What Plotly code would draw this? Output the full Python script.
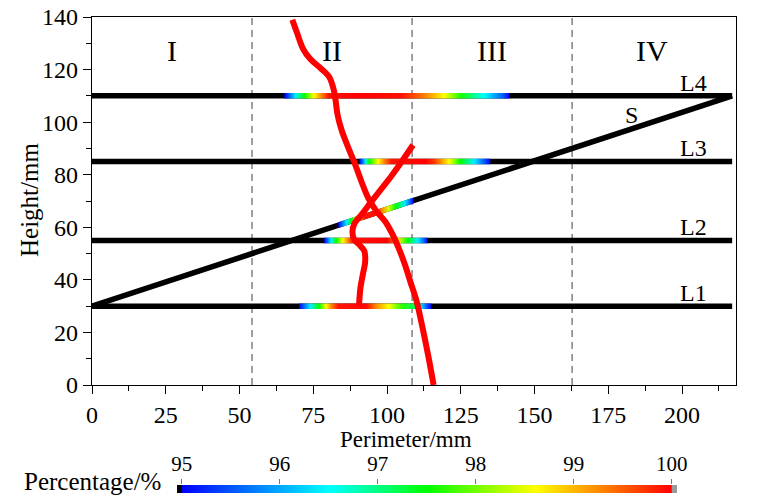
import plotly.graph_objects as go
from plotly.colors import sample_colorscale

# ---------------- data ----------------
perimeter = 217.0
region_labels = ["I", "II", "III", "IV"]
line_names = ["L1", "L2", "L3", "L4"]
line_heights = [30, 55, 85, 110]
s_name = "S"
s_y = [30, 110]          # S runs from L1 (at x=0) to L4 (at x=perimeter)

# percentage profiles along each line: position (mm) and percentage (%)
L1_x = [70.2, 71.3, 74.0, 77.0, 79.3, 81.2, 83.5, 93.0, 96.0, 100.5, 105.0, 109.0, 111.6, 113.5, 115.0]
L1_p = [95.0, 95.4, 96.4, 97.5, 98.6, 99.3, 99.9, 99.95, 99.3, 98.6, 97.7, 97.2, 96.3, 95.5, 95.0]
L2_x = [78.7, 79.5, 81.0, 82.8, 85.0, 86.8, 88.5, 100.0, 102.0, 103.8, 107.0, 110.4, 112.7, 113.8]
L2_p = [95.0, 95.4, 96.4, 97.5, 98.6, 99.3, 99.9, 100.0, 99.5, 98.7, 97.5, 96.4, 95.5, 95.0]
L3_x = [90.6, 91.5, 92.7, 94.0, 97.0, 99.5, 101.5, 113.0, 116.0, 118.4, 121.0, 125.0, 129.6, 133.0, 135.0]
L3_p = [95.0, 95.5, 96.4, 97.5, 98.6, 99.4, 99.9, 100.0, 99.7, 99.2, 98.6, 97.5, 96.4, 95.5, 95.0]
L4_x = [65.2, 66.0, 69.0, 72.0, 75.2, 77.5, 80.3, 90.0, 100.0, 105.0, 109.0, 114.0, 119.4, 125.0, 133.0, 139.0, 141.5]
L4_p = [95.0, 95.2, 96.4, 97.5, 98.6, 99.2, 99.9, 100.0, 99.95, 99.9, 99.6, 99.2, 98.6, 97.6, 96.5, 95.6, 95.0]
S_x = [83.5, 84.5, 86.3, 88.0, 89.5, 91.0, 92.5, 96.0, 98.5, 100.5, 103.0, 106.0, 108.0, 109.0]
S_p = [95.0, 95.5, 96.4, 97.5, 98.6, 99.3, 99.9, 99.9, 99.2, 98.4, 97.5, 96.4, 95.5, 95.0]

# red curves (perimeter mm, height mm)
curveA_x = [67.9, 69.5, 71.5, 74.0, 77.5, 80.5, 82.0, 82.6, 83.2, 84.6, 86.8, 89.0, 91.3, 93.7,
            96.5, 99.5, 102.0, 104.0, 106.0, 108.0, 110.0, 112.0, 114.0, 115.8]
curveA_y = [139, 134, 128, 124, 120.5, 117, 112, 108, 103, 97, 90.5, 84.5, 77.5, 71,
            66, 62, 57, 52, 46, 39, 32, 22, 11, 0]
curveB_x = [90.5, 91.0, 91.8, 92.6, 92.3, 90.5, 88.8, 88.3, 89.0, 91.5, 94.5, 98.0, 101.5, 105.0, 108.8]
curveB_y = [30, 37, 42, 47, 51, 53.5, 55.5, 58.5, 61.5, 65, 69.5, 74.5, 79.5, 85, 91.3]

x_ticks = [0, 25, 50, 75, 100, 125, 150, 175, 200]
y_ticks = [0, 20, 40, 60, 80, 100, 120, 140]
cb_ticks = [95, 96, 97, 98, 99, 100]

# ---------------- styling ----------------
FONT = "Liberation Serif"
PCT_SCALE = [[0.0, "rgb(0,0,255)"], [0.3, "rgb(0,255,255)"], [0.5, "rgb(0,255,0)"],
             [0.72, "rgb(255,255,0)"], [1.0, "rgb(255,0,0)"]]
PMIN, PMAX = cb_ticks[0], cb_ticks[-1]
LINE_W = 5.5
HALF = 1.05  # half thickness of a coloured band in mm (height axis)

fig = go.Figure()

# region boundaries (dashed)
for k in range(1, 4):
    xb = perimeter * k / 4
    fig.add_shape(type="line", x0=xb, x1=xb, y0=0, y1=140, xref="x", yref="y",
                  line=dict(color="#808080", width=1.5, dash="7px,5px"), layer="below")

# black lines
for yv in line_heights:
    fig.add_trace(go.Scatter(x=[0, perimeter], y=[yv, yv], mode="lines",
                             line=dict(color="black", width=LINE_W), hoverinfo="skip", showlegend=False))
fig.add_trace(go.Scatter(x=[0, perimeter], y=s_y, mode="lines",
                         line=dict(color="black", width=LINE_W), hoverinfo="skip", showlegend=False))


def band(xs, ps, yfun, half):
    x0, x1 = xs[0], xs[-1]
    px = [x0, x1, x1, x0, x0]
    py = [yfun(x0) - half, yfun(x1) - half, yfun(x1) + half, yfun(x0) + half, yfun(x0) - half]
    pos = [(x - x0) / (x1 - x0) for x in xs]
    vals = [min(1, max(0, (p - PMIN) / (PMAX - PMIN))) for p in ps]
    cols = sample_colorscale(PCT_SCALE, vals)
    return go.Scatter(x=px, y=py, mode="lines", line=dict(width=0, color="rgba(0,0,0,0)"),
                      fill="toself",
                      fillgradient=dict(type="horizontal", colorscale=[[a, c] for a, c in zip(pos, cols)]),
                      hoverinfo="skip", showlegend=False)


profiles = [(L1_x, L1_p), (L2_x, L2_p), (L3_x, L3_p), (L4_x, L4_p)]
for (xs, ps), yv in zip(profiles, line_heights):
    fig.add_trace(band(xs, ps, lambda x, yv=yv: yv, HALF))

slope = (s_y[1] - s_y[0]) / perimeter
fig.add_trace(band(S_x, S_p, lambda x: s_y[0] + slope * x, HALF * 1.05))

# red curves
for cx, cy in [(curveA_x, curveA_y), (curveB_x, curveB_y)]:
    fig.add_trace(go.Scatter(x=cx, y=cy, mode="lines", line=dict(color="#ff0000", width=6, shape="spline"),
                             hoverinfo="skip", showlegend=False))

# colour bar as heatmap on its own axes
fig.add_trace(go.Heatmap(x=cb_ticks, y=[0, 1], z=[cb_ticks, cb_ticks], colorscale=PCT_SCALE,
                         zmin=PMIN, zmax=PMAX, zsmooth="best", showscale=False,
                         xaxis="x2", yaxis="y2", hoverinfo="skip"))
fig.add_shape(type="rect", xref="x2", yref="y2", x0=94.9, x1=PMIN, y0=0, y1=1,
              fillcolor="black", line=dict(width=0))
fig.add_shape(type="rect", xref="x2", yref="y2", x0=PMAX, x1=100.1, y0=0, y1=1,
              fillcolor="#9a9a9a", line=dict(width=0))

# annotations
ann = []
for k, lab in enumerate(region_labels):
    ann.append(dict(x=perimeter * (k + 0.5) / 4, y=127.4, xref="x", yref="y", text=lab,
                    showarrow=False, xanchor="center", yanchor="middle",
                    font=dict(family=FONT, size=30, color="black")))
for lab, yv in zip(line_names, line_heights):
    ann.append(dict(x=204, y=yv + 5, xref="x", yref="y", text=lab, showarrow=False,
                    xanchor="center", yanchor="middle",
                    font=dict(family=FONT, size=24, color="black")))
ann.append(dict(x=183, y=102.7, xref="x", yref="y", text=s_name, showarrow=False,
                xanchor="center", yanchor="middle",
                font=dict(family=FONT, size=24, color="black")))
ann.append(dict(x=0.4876, y=(493 - 439) / 476, xref="paper", yref="paper", text="Perimeter/mm",
                showarrow=False, xanchor="center", yanchor="middle",
                font=dict(family=FONT, size=23, color="black")))
ann.append(dict(x=(29 - 92) / 644, y=0.6155, xref="paper", yref="paper", text="Height/mm", showarrow=False,
                textangle=-90, xanchor="center", yanchor="middle",
                font=dict(family=FONT, size=25, color="black")))
ann.append(dict(x=0.110, y=(493 - 481) / 476, xref="paper", yref="paper", text="Percentage/%",
                showarrow=False, xanchor="right", yanchor="middle",
                font=dict(family=FONT, size=25, color="black")))

fig.update_layout(
    width=776, height=501,
    margin=dict(l=92, r=40, t=17, b=8, autoexpand=False),
    paper_bgcolor="white", plot_bgcolor="white",
    font=dict(family=FONT, color="black"),
    annotations=ann,
    xaxis=dict(domain=[0, 1], range=[0, 218.3], anchor="y", tickvals=x_ticks, ticks="outside",
               ticklen=8, tickwidth=1.3, tickcolor="black", showline=True, linecolor="black",
               linewidth=1.3, mirror=True, showgrid=False, zeroline=False, automargin=False,
               tickfont=dict(family=FONT, size=24, color="black"),
               minor=dict(ticks="outside", ticklen=5, tickwidth=1.2, tickcolor="black", dtick=12.5, tick0=0)),
    yaxis=dict(domain=[0.2269, 1], range=[0, 140], anchor="x", tickvals=y_ticks, ticks="outside",
               ticklen=8, tickwidth=1.3, tickcolor="black", showline=True, linecolor="black",
               linewidth=1.3, mirror=True, showgrid=False, zeroline=False, automargin=False,
               tickfont=dict(family=FONT, size=24, color="black"),
               minor=dict(ticks="outside", ticklen=5, tickwidth=1.2, tickcolor="black", dtick=10, tick0=0)),
    xaxis2=dict(domain=[(177 - 92) / 644, (677 - 92) / 644], range=[94.952, 100.054], anchor="y2",
                side="top", tickvals=cb_ticks, ticks="outside", ticklen=5, tickwidth=1.2,
                tickcolor="#777", showline=False, showgrid=False, zeroline=False, automargin=False,
                tickfont=dict(family=FONT, size=21, color="black")),
    yaxis2=dict(domain=[0, 8 / 476], range=[0, 1], anchor="x2", visible=False, automargin=False),
)

fig.write_html("out.html", config={"displayModeBar": False},
               post_script="document.body.style.margin='0';")
